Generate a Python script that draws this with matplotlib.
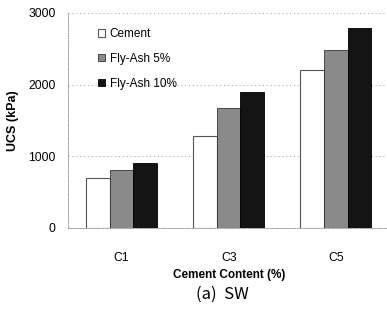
import numpy as np
import matplotlib.pyplot as plt
from matplotlib.patches import Patch

categories = ["C1", "C3", "C5"]
series_names = ["Cement", "Fly-Ash 5%", "Fly-Ash 10%"]
cement = [690, 1280, 2210]
fly_ash_5 = [810, 1680, 2480]
fly_ash_10 = [910, 1900, 2790]

plt.rcParams['font.family'] = ['Liberation Sans', 'DejaVu Sans']

fig = plt.figure(figsize=(3.87, 3.17), dpi=100)
ax = fig.add_axes([0.176, 0.281, 0.83, 0.678])

x = np.arange(len(categories))
w = 0.22
styles = [
    dict(facecolor="white", edgecolor="#555555", linewidth=0.8),
    dict(facecolor="#8a8a8a", edgecolor="#333333", linewidth=0.6),
    dict(facecolor="#141414", edgecolor="#000000", linewidth=0.6),
]
for i, (vals, st) in enumerate(zip([cement, fly_ash_5, fly_ash_10], styles)):
    ax.bar(x + (i - 1) * w, vals, width=w, zorder=3, **st)

ax.set_xlim(-0.5, 2.5)
ax.set_ylim(0, 3000)
ax.set_yticks([0, 1000, 2000, 3000])
ax.set_xticks(x)
ax.set_xticklabels(categories)
ax.tick_params(axis="both", length=0, labelsize=8.8)
ax.tick_params(axis="x", pad=17)
ax.tick_params(axis="y", pad=9)

ax.grid(axis="y", linestyle=(0, (1, 3)), color="#999999", linewidth=0.7, zorder=0)
for side in ["left", "bottom"]:
    ax.spines[side].set_linestyle((0, (1, 1.5)))
    ax.spines[side].set_color("#999999")
    ax.spines[side].set_linewidth(0.7)
for side in ["top", "right"]:
    ax.spines[side].set_visible(False)

ax.set_ylabel("UCS (kPa)", fontsize=9, fontweight="bold", labelpad=7)
ax.set_xlabel("Cement Content (%)", fontsize=8.5, fontweight="bold", labelpad=4)

handles = [Patch(**st) for st in styles]
ax.legend(handles, series_names, loc="upper left", bbox_to_anchor=(0.06, 0.98),
          frameon=False, fontsize=8.5, handlelength=0.6, handleheight=0.6,
          handletextpad=0.4, labelspacing=1.1)

fig.text(0.575, 0.07, "(a)  SW", ha="center", va="center", fontsize=12,
         family=["Noto Sans CJK KR", "DejaVu Sans"])

plt.savefig("out.png", dpi=100)
plt.close()
